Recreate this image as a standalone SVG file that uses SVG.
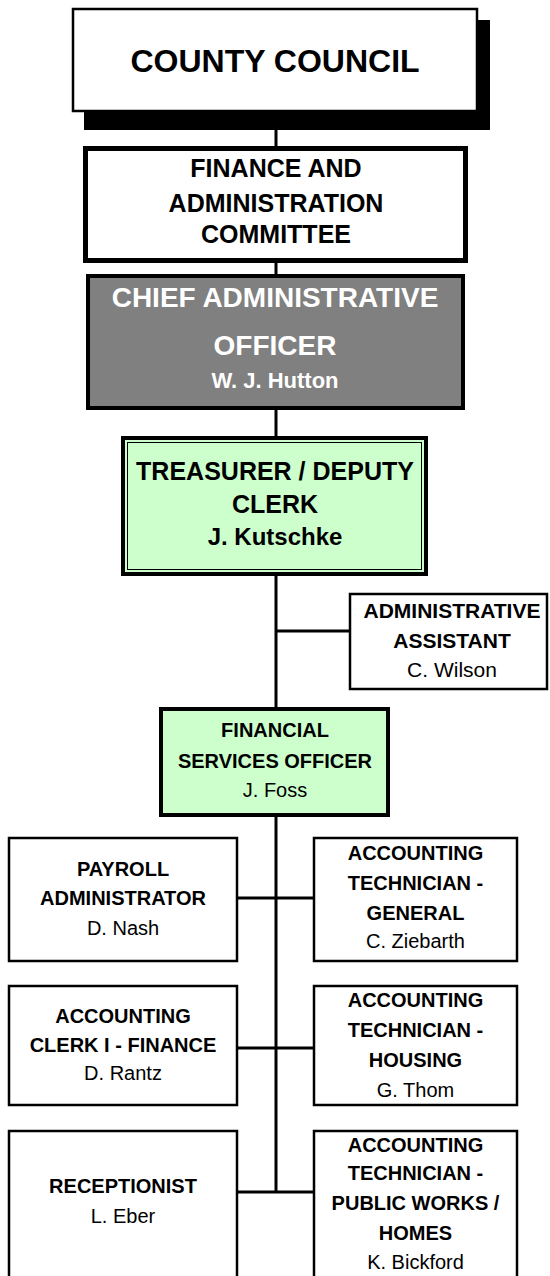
<svg xmlns="http://www.w3.org/2000/svg" width="550" height="1276" viewBox="0 0 550 1276">
<style>
text{font-family:"Liberation Sans",Arial,sans-serif;text-anchor:middle;fill:#000}
.b{font-weight:bold}
.w{fill:#fff}
.box{fill:#fff;stroke:#000;stroke-width:2.5}
.green{fill:#ccffcc;stroke:#000}
.ln{stroke:#000;stroke-width:3;fill:none}
</style>
<rect width="550" height="1276" fill="#fff"/>
<g id="connectors">
<path class="ln" d="M276 130V146M276 263V275M276 410V436M276 576V708M276 817V1192M276 631H349M238 898H313M238 1048H313M238 1192H313"/>
</g>
<g id="county-council">
<rect x="84" y="20" width="406" height="110" fill="#000"/>
<rect x="73" y="9" width="404" height="102" fill="#fff" stroke="#000" stroke-width="2.5"/>
<text class="b" x="275" y="72" font-size="32">COUNTY COUNCIL</text>
</g>
<g id="finance-committee">
<rect x="85.5" y="148.5" width="380" height="112" fill="#fff" stroke="#000" stroke-width="5"/>
<text class="b" x="276" y="177" font-size="25">FINANCE AND</text>
<text class="b" x="276" y="212" font-size="25">ADMINISTRATION</text>
<text class="b" x="276" y="243" font-size="25">COMMITTEE</text>
</g>
<g id="cao">
<rect x="88" y="276" width="375" height="132" fill="#808080" stroke="#000" stroke-width="4"/>
<text class="b w" x="275" y="307" font-size="28">CHIEF ADMINISTRATIVE</text>
<text class="b w" x="275" y="355" font-size="28">OFFICER</text>
<text class="b w" x="275" y="388" font-size="22">W. J. Hutton</text>
</g>
<g id="treasurer">
<rect class="green" x="123" y="438" width="303" height="136" stroke-width="4"/>
<rect x="127.5" y="442.5" width="294" height="127" fill="none" stroke="#000" stroke-width="1"/>
<text class="b" x="275" y="480" font-size="25">TREASURER / DEPUTY</text>
<text class="b" x="275" y="513" font-size="25">CLERK</text>
<text class="b" x="275" y="545" font-size="24">J. Kutschke</text>
</g>
<g id="admin-assistant">
<rect class="box" x="350" y="594" width="197" height="95" stroke-width="4"/>
<text class="b" x="452" y="618" font-size="21">ADMINISTRATIVE</text>
<text class="b" x="452" y="648" font-size="21">ASSISTANT</text>
<text x="452" y="677" font-size="21">C. Wilson</text>
</g>
<g id="fso">
<rect class="green" x="161" y="709" width="227" height="106" stroke-width="4"/>
<text class="b" x="275" y="737" font-size="20">FINANCIAL</text>
<text class="b" x="275" y="768" font-size="20">SERVICES OFFICER</text>
<text x="275" y="797" font-size="20">J. Foss</text>
</g>
<g id="payroll">
<rect class="box" x="9" y="838" width="228" height="123"/>
<text class="b" x="123" y="876" font-size="20">PAYROLL</text>
<text class="b" x="123" y="905" font-size="20">ADMINISTRATOR</text>
<text x="123" y="935" font-size="20">D. Nash</text>
</g>
<g id="acct-general">
<rect class="box" x="314" y="838" width="203" height="123"/>
<text class="b" x="415.5" y="860" font-size="20">ACCOUNTING</text>
<text class="b" x="415.5" y="890" font-size="20">TECHNICIAN -</text>
<text class="b" x="415.5" y="920" font-size="20">GENERAL</text>
<text x="415.5" y="948" font-size="20">C. Ziebarth</text>
</g>
<g id="acct-clerk">
<rect class="box" x="9" y="986" width="228" height="119"/>
<text class="b" x="123" y="1023" font-size="20">ACCOUNTING</text>
<text class="b" x="123" y="1052" font-size="20">CLERK I - FINANCE</text>
<text x="123" y="1080" font-size="20">D. Rantz</text>
</g>
<g id="acct-housing">
<rect class="box" x="314" y="986" width="203" height="119"/>
<text class="b" x="415.5" y="1007" font-size="20">ACCOUNTING</text>
<text class="b" x="415.5" y="1037" font-size="20">TECHNICIAN -</text>
<text class="b" x="415.5" y="1067" font-size="20">HOUSING</text>
<text x="415.5" y="1097" font-size="20">G. Thom</text>
</g>
<g id="receptionist">
<rect class="box" x="9" y="1131" width="228" height="152"/>
<text class="b" x="123" y="1193" font-size="20">RECEPTIONIST</text>
<text x="123" y="1223" font-size="20">L. Eber</text>
</g>
<g id="acct-public-works">
<rect class="box" x="314" y="1131" width="203" height="152"/>
<text class="b" x="415.5" y="1152" font-size="20">ACCOUNTING</text>
<text class="b" x="415.5" y="1180" font-size="20">TECHNICIAN -</text>
<text class="b" x="415.5" y="1210" font-size="20">PUBLIC WORKS /</text>
<text class="b" x="415.5" y="1240" font-size="20">HOMES</text>
<text x="415.5" y="1269" font-size="20">K. Bickford</text>
</g>
</svg>
